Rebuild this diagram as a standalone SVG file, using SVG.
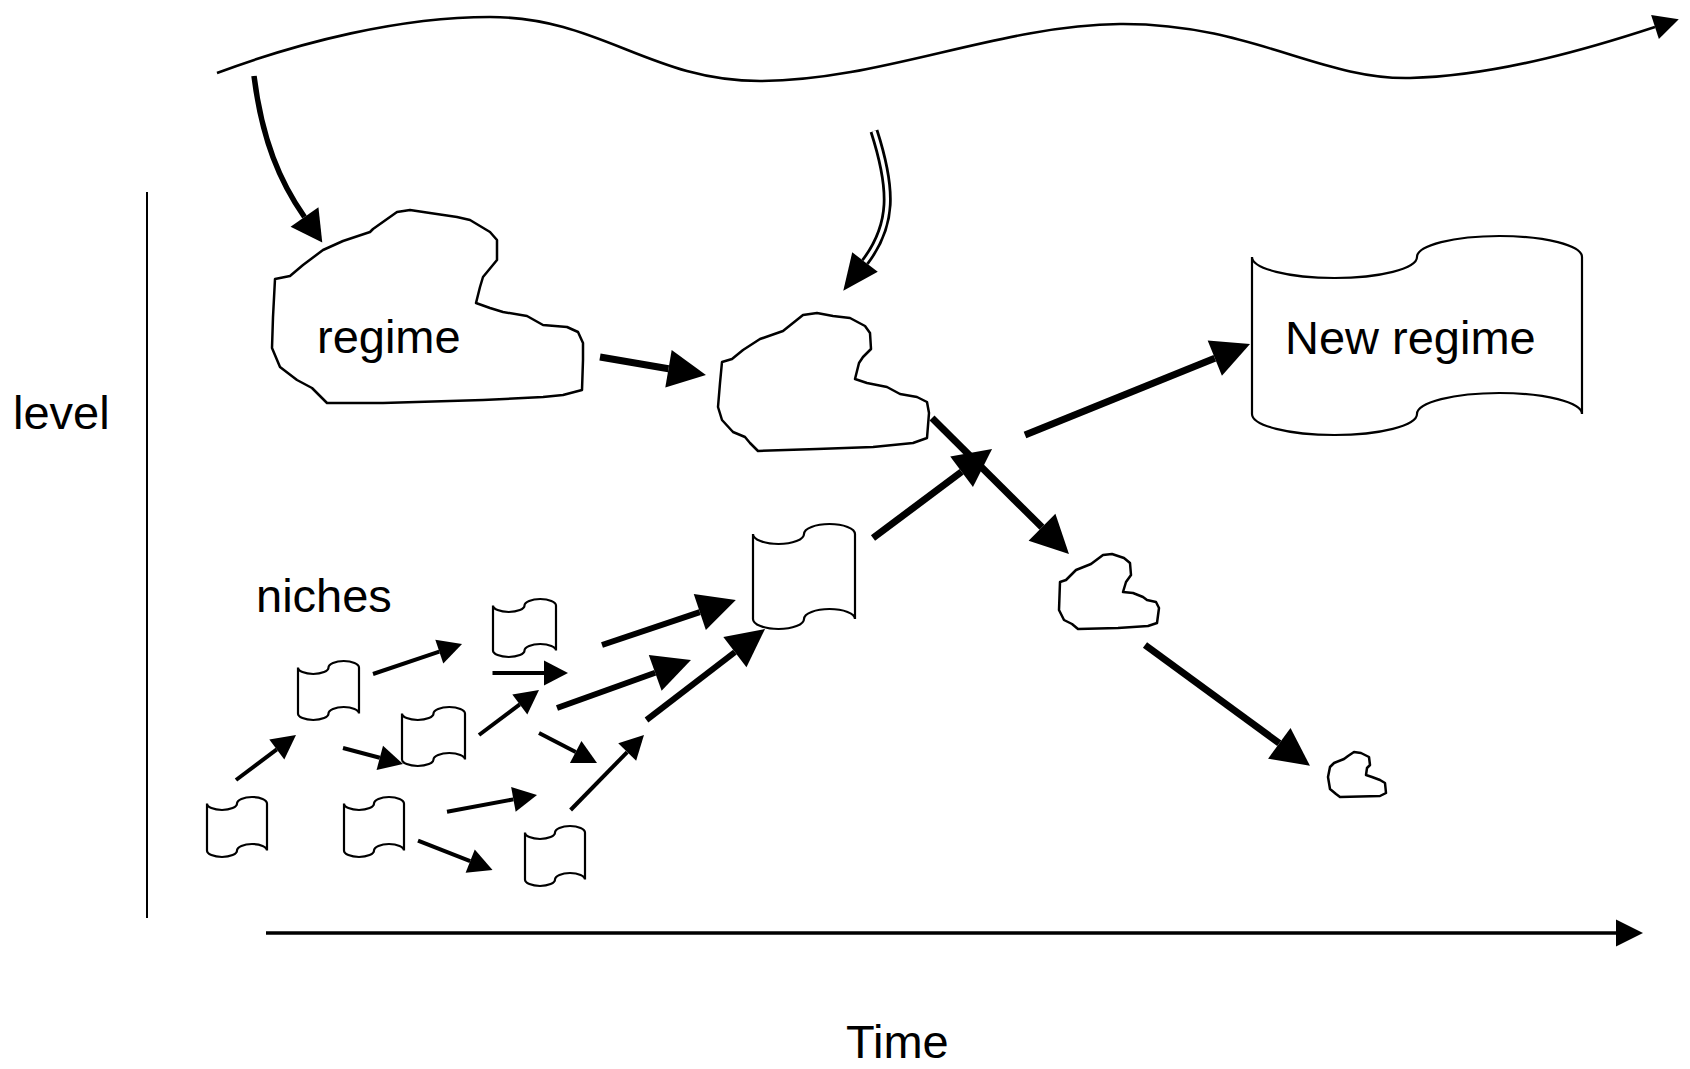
<svg xmlns="http://www.w3.org/2000/svg" width="1690" height="1069" viewBox="0 0 1690 1069">
<style>
.bg{fill:#fff}
.lbl{font-family:"Liberation Sans",Arial,Helvetica,sans-serif;font-size:47px;fill:#000}
.cloud{fill:#fff;stroke:#000;stroke-width:2.5;stroke-linejoin:round}
.tape{fill:#fff;stroke:#000;stroke-width:2.2}
.big{fill:none;stroke:#000;stroke-width:7;marker-end:url(#hBig)}
.med{fill:none;stroke:#000;stroke-width:6;marker-end:url(#hBig)}
.sm{fill:none;stroke:#000;stroke-width:4;marker-end:url(#hSmall)}
</style>
<defs>
<marker id="hBig" markerUnits="userSpaceOnUse" markerWidth="38" markerHeight="38" refX="0" refY="19" orient="auto" overflow="visible"><path d="M0,0 L38,19 L0,38 Z" fill="#000"/></marker>
<marker id="hSmall" markerUnits="userSpaceOnUse" markerWidth="24" markerHeight="25" refX="0" refY="12.5" orient="auto" overflow="visible"><path d="M0,0 L24,12.5 L0,25 Z" fill="#000"/></marker>
<marker id="hMed" markerUnits="userSpaceOnUse" markerWidth="31" markerHeight="34" refX="0" refY="17" orient="auto" overflow="visible"><path d="M0,0 L31,17 L0,34 Z" fill="#000"/></marker>
<marker id="hDbl" markerUnits="userSpaceOnUse" markerWidth="36" markerHeight="32" refX="0" refY="16" orient="auto" overflow="visible"><path d="M0,0 L36,16 L0,32 Z" fill="#000"/></marker>
<marker id="hAxis" markerUnits="userSpaceOnUse" markerWidth="27" markerHeight="27" refX="0" refY="13.5" orient="auto" overflow="visible"><path d="M0,0 L27,13.5 L0,27 Z" fill="#000"/></marker>
<marker id="hWave" markerUnits="userSpaceOnUse" markerWidth="25" markerHeight="25" refX="0" refY="12.5" orient="auto" overflow="visible"><path d="M0,0 L25,12.5 L0,25 Z" fill="#000"/></marker>
</defs>
<rect class="bg" x="0" y="0" width="1690" height="1069"/>

<g id="axes">
<path d="M147,192 L147,918" fill="none" stroke="#000" stroke-width="2"/>
<path d="M266,933 L1616,933" fill="none" stroke="#000" stroke-width="3.5" marker-end="url(#hAxis)"/>
<path d="M217,73 C300,42 400,17 490,17 C600,17 650,81 760,81 C880,81 1000,25 1120,24 C1250,23 1320,80 1410,78 C1500,76 1600,45 1655,27" fill="none" stroke="#000" stroke-width="2.6" marker-end="url(#hWave)"/>
</g>

<g id="labels">
<text class="lbl" x="13" y="429">level</text>
<text class="lbl" x="256" y="612">niches</text>
<text class="lbl" x="846" y="1058">Time</text>
</g>

<g id="node-regime">
<path class="cloud" d="M275,279 L290,276 L303,265 L323,250 L343,241 L370,232 L373,229 L397,212 L410,210 L430,213 L457,217 L470,220 L490,232 L497,240 L497,260 L483,277 L480,287 L476,303 L490,308 L503,312 L527,316 L543,325 L567,327 L578,332 L583,343 L583,360 L582,390 L563,395 L543,397 L483,400 L383,403 L327,403 L317,393 L312,388 L297,380 L280,367 L272,348 L273,317 Z"/>
<text class="lbl" x="317" y="353">regime</text>
</g>

<g id="node-regime2">
<path class="cloud" d="M722,362 L732,359 L743,350 L760,339 L783,331 L788,327 L803,315 L817,313 L833,316 L850,318 L865,326 L870,333 L871,349 L863,357 L859,363 L855,379 L867,383 L887,387 L900,394 L917,397 L927,402 L929,413 L927,438 L913,443 L873,447 L817,449 L758,451 L750,443 L745,437 L733,432 L722,420 L718,407 L720,383 Z"/>
</g>

<g id="node-regime3">
<path class="cloud" d="M1060,582 L1066,580 L1076,570 L1091,564 L1103,555 L1112,554 L1124,558 L1130,563 L1131,575 L1126,582 L1123,592 L1133,593 L1143,597 L1147,600 L1156,602 L1159,608 L1157,623 L1148,626 L1118,628 L1078,629 L1072,624 L1064,620 L1059,610 Z"/>
</g>

<g id="node-regime4">
<path class="cloud" d="M1330,767 L1334,763 L1344,759 L1348,756 L1354,752 L1361,753 L1369,757 L1370,765 L1367,768 L1366,775 L1372,777 L1380,780 L1385,783 L1386,793 L1380,796 L1340,797 L1336,794 L1330,789 L1328,777 Z"/>
</g>

<g id="node-new-regime">
<path class="tape" d="M1252,257 A82.5,21 0 0 0 1417,257 A82.5,21 0 0 1 1582,257 L1582,414 A82.5,21 0 0 0 1417,414 A82.5,21 0 0 1 1252,414 Z"/>
<text class="lbl" x="1285" y="354">New regime</text>
</g>

<g id="node-niche-big">
<path class="tape" d="M753,534 A25.5,10 0 0 0 804,534 A25.5,10 0 0 1 855,534 L855,619 A25.5,10 0 0 0 804,619 A25.5,10 0 0 1 753,619 Z"/>
</g>
<g id="node-niche1">
<path class="tape" d="M207,803.5 A15,6.5 0 0 0 237,803.5 A15,6.5 0 0 1 267,803.5 L267,850.5 A15,6.5 0 0 0 237,850.5 A15,6.5 0 0 1 207,850.5 Z"/>
</g>
<g id="node-niche2">
<path class="tape" d="M298,667.5 A15.25,6.5 0 0 0 328.5,667.5 A15.25,6.5 0 0 1 359,667.5 L359,713.5 A15.25,6.5 0 0 0 328.5,713.5 A15.25,6.5 0 0 1 298,713.5 Z"/>
</g>
<g id="node-niche3">
<path class="tape" d="M493,605.5 A15.75,6.5 0 0 0 524.5,605.5 A15.75,6.5 0 0 1 556,605.5 L556,650.5 A15.75,6.5 0 0 0 524.5,650.5 A15.75,6.5 0 0 1 493,650.5 Z"/>
</g>
<g id="node-niche4">
<path class="tape" d="M402,713.5 A15.75,6.5 0 0 0 433.5,713.5 A15.75,6.5 0 0 1 465,713.5 L465,759.5 A15.75,6.5 0 0 0 433.5,759.5 A15.75,6.5 0 0 1 402,759.5 Z"/>
</g>
<g id="node-niche5">
<path class="tape" d="M344,803.5 A15,6.5 0 0 0 374,803.5 A15,6.5 0 0 1 404,803.5 L404,850.5 A15,6.5 0 0 0 374,850.5 A15,6.5 0 0 1 344,850.5 Z"/>
</g>
<g id="node-niche6">
<path class="tape" d="M525,832.5 A15,6.5 0 0 0 555,832.5 A15,6.5 0 0 1 585,832.5 L585,879.5 A15,6.5 0 0 0 555,879.5 A15,6.5 0 0 1 525,879.5 Z"/>
</g>

<g id="connectors">
<path d="M254,76 C262,140 280,182 304.5,217" fill="none" stroke="#000" stroke-width="5.5" marker-end="url(#hMed)"/>
<path d="M874,131 C893,190 893,225 865,262" fill="none" stroke="#000" stroke-width="9" marker-end="url(#hDbl)"/>
<path d="M874,131 C893,190 893,225 865,262" fill="none" stroke="#fff" stroke-width="3.5"/>
<path class="big" d="M600,357 L668.5,368.7"/>
<path class="big" d="M932,418 L1042,527.3"/>
<path class="big" d="M873,538 L961.6,471.8"/>
<path class="big" d="M1025,435 L1214.8,358.2"/>
<path class="big" d="M1145,645 L1279.3,743.3"/>
<path class="med" d="M602,645 L699.8,612.1"/>
<path class="med" d="M557,708 L655.2,672.8"/>
<path class="med" d="M646.5,720 L734.9,652.1"/>
<path class="sm" d="M236,780 L276.8,749.4"/>
<path class="sm" d="M373,674 L439.3,651.7"/>
<path class="sm" d="M343,748 L379.8,757.8"/>
<path class="sm" d="M479,735 L519.8,704.4"/>
<path class="sm" d="M492.5,673 L544,673"/>
<path class="sm" d="M447,811.7 L513.4,799.4"/>
<path class="sm" d="M418,840.7 L470.2,861.2"/>
<path class="sm" d="M539,733 L575.7,752"/>
<path class="sm" d="M570.6,810 L627.2,752.1"/>
</g>
</svg>
